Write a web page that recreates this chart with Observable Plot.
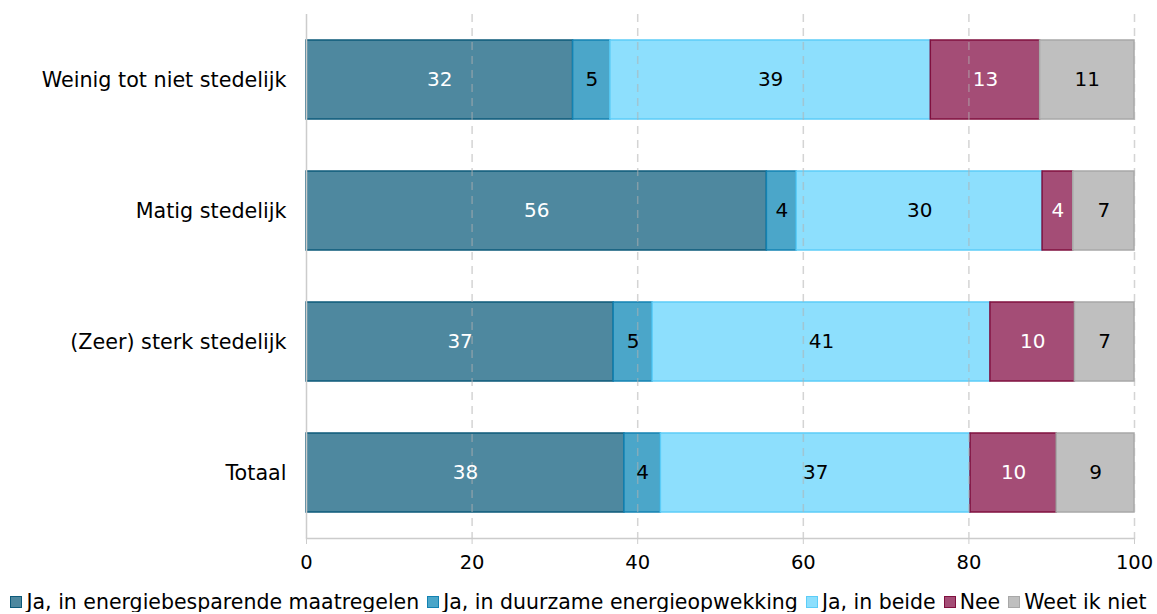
<!DOCTYPE html>
<html>
<head>
<meta charset="utf-8">
<script src="https://cdn.jsdelivr.net/npm/d3@7"></script>
<script src="https://cdn.jsdelivr.net/npm/@observablehq/plot@0.6"></script>
<style>
  body { margin: 0; background: #fff; font-family: "DejaVu Sans", sans-serif; }
  #legend { display: flex; justify-content: center; gap: 8px; font-size: 20.5px; line-height: 20px; margin-top: 7px; color: #000; white-space: nowrap; }
  #legend .item { display: flex; align-items: center; }
  #legend .sw { width: 10px; height: 10px; border: 1px solid; margin-right: 4px; display: inline-block; }
</style>
</head>
<body>
<div id="chart"></div>
<div id="legend"></div>
<script>
const categories = ["Weinig tot niet stedelijk", "Matig stedelijk", "(Zeer) sterk stedelijk", "Totaal"];
const series = ["Ja, in energiebesparende maatregelen", "Ja, in duurzame energieopwekking", "Ja, in beide", "Nee", "Weet ik niet"];
const valuesBySeries = [
  [32.2, 55.6, 37.1, 38.4],
  [4.5, 3.6, 4.7, 4.4],
  [38.7, 29.7, 40.8, 37.4],
  [13.2, 3.7, 10.2, 10.4],
  [11.4, 7.4, 7.2, 9.4]
];
const fills = ["#4e889f", "#4ba6c9", "#8ddffd", "#a44d76", "#bfbfbf"];
const strokes = ["#0d5a7a", "#1382b2", "#5ccdf8", "#80103f", "#a8a8a8"];
const labelColors = ["#fff", "#000", "#000", "#fff", "#000"];
const xTicks = [0, 20, 40, 60, 80, 100];

const data = [];
series.forEach((s, si) => categories.forEach((c, ci) => {
  data.push({cat: c, series: s, si, value: valuesBySeries[si][ci]});
}));

const plot = Plot.plot({
  width: 1157,
  height: 585,
  marginLeft: 306,
  marginRight: 23,
  marginTop: 14,
  marginBottom: 47,
  style: {fontFamily: "DejaVu Sans, sans-serif", fontSize: "16px", color: "#000", background: "#fff"},
  x: {domain: [0, 100]},
  y: {domain: categories, padding: 0.4, paddingOuter: 0.2},
  marks: [
    Plot.barX(data, Plot.stackX({
      x: "value", y: "cat", z: "series", order: null,
      fill: d => fills[d.si], stroke: d => strokes[d.si], strokeWidth: 1.5
    })),
    Plot.gridX([20, 40, 60, 80, 100], {stroke: "#b0b0b0", strokeOpacity: 0.55, strokeWidth: 1.5, strokeDasharray: "8,6"}),
    Plot.ruleX([0], {stroke: "#cccccc", strokeWidth: 1.5}),
    Plot.frame({anchor: "bottom", stroke: "#cccccc", strokeWidth: 1.5}),
    Plot.textX(data, Plot.stackX({
      x: "value", y: "cat", z: "series", order: null,
      text: d => String(Math.round(d.value)),
      fill: d => labelColors[d.si], fontSize: 20
    })),
    Plot.axisX({ticks: xTicks, tickSize: 6, tickPadding: 11, stroke: "#cccccc", fill: "#000", label: null, fontSize: 19.5}),
    Plot.axisY({tickSize: 0, tickPadding: 20, label: null, fill: "#000", fontSize: 20.7})
  ]
});
document.getElementById("chart").appendChild(plot);

const legend = document.getElementById("legend");
series.forEach((s, i) => {
  const item = document.createElement("span");
  item.className = "item";
  const sw = document.createElement("span");
  sw.className = "sw";
  sw.style.background = fills[i];
  sw.style.borderColor = strokes[i];
  item.appendChild(sw);
  item.appendChild(document.createTextNode(s));
  legend.appendChild(item);
});
</script>
</body>
</html>
